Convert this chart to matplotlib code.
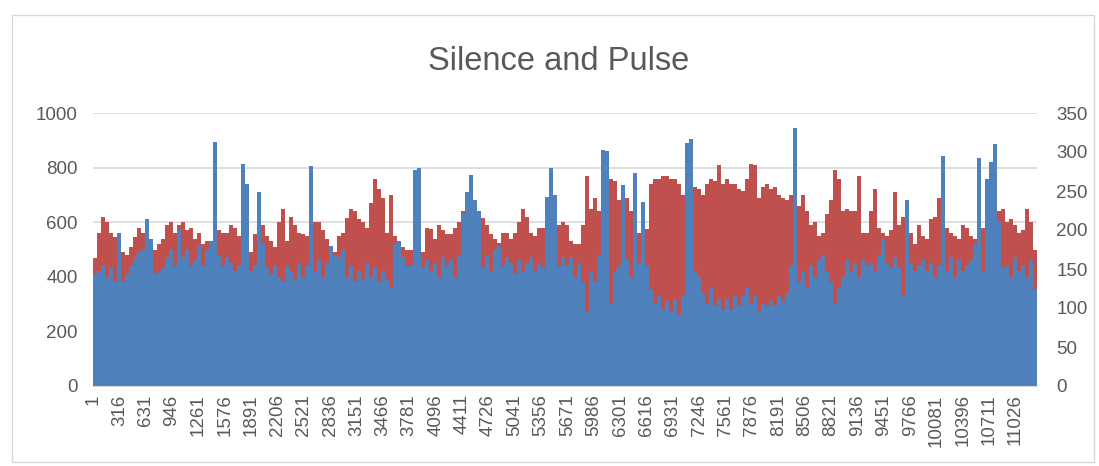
import matplotlib
matplotlib.use("Agg")

import matplotlib.pyplot as plt
import numpy as np
from matplotlib.patches import Rectangle

# one reading per ~48 rows of the sheet
# silence: red area, left axis (0-1000)
silence = [
    470, 560, 620, 600, 560, 545, 540, 490, 480, 510, 545, 580, 560, 540, 530, 500, 520, 540, 590, 600,
    560, 590, 600, 570, 580, 540, 560, 520, 530, 500, 540, 570, 560, 560, 590, 580, 550, 530, 520,
    490, 555, 550, 590, 550, 530, 510, 600, 650, 530, 620, 590, 560, 555, 550, 540, 600, 600, 570, 540,
    500, 490, 550, 560, 615, 650, 640, 610, 600, 580, 670, 760, 720, 690, 560, 700, 550, 530, 510, 500,
    500, 480, 480, 490, 580, 575, 540, 590, 570, 555, 555, 580, 600, 640, 620, 600, 600, 600, 615, 590,
    555, 540, 525, 560, 560, 540, 560, 600, 650, 620, 560, 550, 580, 580, 570, 570, 610, 590, 600,
    590, 530, 520, 520, 590, 770, 650, 690, 640, 700, 770, 760, 750, 680, 720, 690, 640, 570, 560, 560,
    575, 740, 760, 760, 770, 770, 760, 760, 740, 700, 660, 660, 730, 720, 700, 740, 760, 750, 810, 740,
    760, 740, 740, 720, 715, 760, 815, 810, 690, 730, 740, 720, 730, 700, 690, 680, 700, 690, 660, 700,
    640, 590, 600, 550, 560, 630, 680, 790, 760, 640, 650, 640, 640, 770, 560, 560, 640, 720, 580,
    560, 550, 570, 710, 590, 620, 580, 560, 520, 590, 550, 540, 610, 620, 690, 660, 580, 560, 550, 540,
    590, 580, 550, 540, 540, 580, 600, 600, 620, 640, 650, 600, 610, 590, 560, 570, 650, 600, 500,
]

# pulse: blue area, right axis (0-350)
pulse = [
    144, 147, 154, 140, 151, 133, 196, 133, 144, 154, 165, 172, 175, 214, 189, 144, 147, 151, 165, 175,
    154, 200, 165, 175, 154, 161, 179, 154, 175, 186, 313, 168, 154, 165, 158, 147, 154, 284, 259,
    147, 154, 249, 182, 151, 144, 154, 140, 133, 154, 147, 137, 158, 140, 154, 282, 147, 161, 140, 158,
    179, 168, 165, 175, 140, 154, 133, 147, 137, 158, 140, 151, 133, 147, 137, 126, 182, 186, 165, 154,
    154, 277, 280, 151, 161, 147, 158, 140, 165, 154, 161, 140, 168, 221, 249, 270, 238, 224, 151, 168,
    147, 175, 179, 154, 165, 158, 144, 161, 147, 158, 165, 147, 158, 151, 242, 280, 245, 154, 165,
    154, 165, 140, 158, 133, 95, 147, 133, 168, 303, 301, 105, 147, 154, 258, 161, 140, 273, 158, 236,
    154, 123, 105, 116, 98, 109, 95, 112, 91, 116, 312, 317, 147, 140, 119, 105, 126, 102, 112, 98,
    112, 98, 116, 102, 116, 126, 105, 116, 95, 105, 102, 109, 102, 116, 109, 119, 154, 331, 133, 147,
    126, 154, 140, 161, 168, 147, 133, 105, 126, 140, 161, 147, 158, 140, 161, 154, 158, 147, 168,
    189, 158, 151, 165, 151, 116, 239, 158, 147, 154, 161, 147, 158, 140, 154, 295, 147, 165, 140, 161,
    147, 154, 161, 182, 292, 147, 266, 287, 310, 210, 151, 154, 140, 165, 147, 154, 140, 161, 123,
]

rows_per_reading = 47.8
tick_step = 315
left_ticks = [0, 200, 400, 600, 800, 1000]
right_ticks = [0, 50, 100, 150, 200, 250, 300, 350]

RED = "#C0504D"
BLUE = "#4F81BD"
TEXT = "#595959"
GRID = "#D9D9D9"
FONT = "Liberation Sans"


def main() -> None:
    n = len(silence)
    edges = 1 + rows_per_reading * np.arange(n + 1)
    last_row = edges[-1]

    fig = plt.figure(figsize=(10.99, 4.66), dpi=100)
    fig.patch.set_facecolor("white")
    fig.patches.append(Rectangle((12 / 1099, 4 / 466), 1082 / 1099, 447 / 466,
                                 transform=fig.transFigure, fill=False,
                                 edgecolor=GRID, linewidth=1.0))

    ax = fig.add_axes([93 / 1099, 1 - 386 / 466, 944 / 1099, 273 / 466])
    ax.fill_between(edges, np.append(silence, silence[-1]), step="post",
                    color=RED, linewidth=0)
    ax.set_xlim(1, last_row)
    ax.set_ylim(0, 1000)
    ax.set_yticks(left_ticks)
    ax.yaxis.grid(True, color=GRID, linewidth=1.2)
    ax.set_axisbelow(True)

    ax2 = ax.twinx()
    ax2.fill_between(edges, np.append(pulse, pulse[-1]), step="post",
                     color=BLUE, linewidth=0)
    ax2.set_ylim(0, 350)
    ax2.set_yticks(right_ticks)

    xticks = np.arange(1, last_row, tick_step)
    ax.set_xticks(xticks)
    ax.set_xticklabels([str(int(t)) for t in xticks], rotation=90,
                       fontsize=13, color=TEXT, family=FONT, va="top")

    for a in (ax, ax2):
        for side, sp in a.spines.items():
            sp.set_visible(side == "bottom")
        a.spines["bottom"].set_color(GRID)
        a.tick_params(length=0, labelsize=13.5, labelcolor=TEXT)
        for lbl in a.get_yticklabels():
            lbl.set_family(FONT)
    ax.tick_params(axis="y", pad=11)
    ax2.tick_params(axis="y", pad=14)
    ax.tick_params(axis="x", pad=6)

    fig.text(559 / 1099, 1 - 61 / 466, "Silence and Pulse", ha="center", va="center",
             fontsize=23.5, color=TEXT, family=FONT)

    fig.savefig("out.png", dpi=100)


if __name__ == "__main__":
    main()
